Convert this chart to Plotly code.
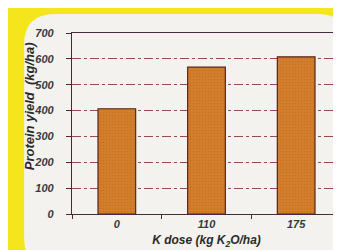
import plotly.graph_objects as go

categories = ["0", "110", "175"]
protein_yield = [407, 568, 608]
y_ticks = [0, 100, 200, 300, 400, 500, 600, 700]

fnt = dict(family="Arial, Liberation Sans", weight=700, style="italic")

fig = go.Figure(go.Bar(
    x=categories, y=protein_yield,
    marker=dict(color="#d27e2c", line=dict(color="#5a2418", width=1.2),
                pattern=dict(shape=".", fgcolor="#b8661e", size=3, solidity=0.25)),
    width=0.42,
))

# rounded light panel on yellow background
x0, x1, y0, y1 = -0.178, 1.027, -0.30, 1.105
rx, ry = 0.115, 0.17
path = (f"M {x0+rx},{y1} L {x1-rx},{y1} Q {x1},{y1} {x1},{y1-ry} "
        f"L {x1},{y0+ry} Q {x1},{y0} {x1-rx},{y0} L {x0+rx},{y0} "
        f"Q {x0},{y0} {x0},{y0+ry} L {x0},{y1-ry} Q {x0},{y1} {x0+rx},{y1} Z")
fig.add_shape(type="path", path=path, xref="paper", yref="paper",
              fillcolor="#f3f2ee", line=dict(width=0), layer="below")

# y-axis title (placed slightly above centre, as in the reference)
fig.add_annotation(text="Protein yield  (kg/ha)", textangle=-90,
                   xref="paper", yref="paper", x=-0.155, y=0.597,
                   xanchor="center", yanchor="middle", showarrow=False,
                   font=dict(**fnt, size=13, color="#2a2a2a"))

fig.update_layout(
    width=341, height=250,
    margin=dict(l=64, r=8, t=25, b=44),
    paper_bgcolor="#f4e51c",
    plot_bgcolor="#f6f5f2",
    showlegend=False,
    font=dict(**fnt, size=11, color="#3a3a3a"),
)
fig.update_xaxes(
    showline=True, linecolor="#4a2a40", linewidth=1.2, mirror=True,
    ticks="outside", tickson="boundaries", ticklen=4, tickcolor="#4a2a40",
    ticklabelstandoff=0,
    tickfont=dict(**fnt, size=11, color="#3a3a3a"),
    title=dict(text="K dose (kg K<sub>2</sub>O/ha)", standoff=6,
               font=dict(**fnt, size=12, color="#2a2a2a")),
)
fig.update_yaxes(
    range=[0, 700], tickvals=y_ticks,
    showline=True, linecolor="#5a2030", linewidth=1.2, mirror=True,
    ticks="outside", ticklen=5, tickcolor="#5a2030",
    ticklabelstandoff=10,
    showgrid=True, gridcolor="#9a4a4a", griddash="dashdot", gridwidth=0.6,
    zeroline=False,
    tickfont=dict(**fnt, size=11, color="#3a3a3a"),
)

fig.write_html("out.html")
